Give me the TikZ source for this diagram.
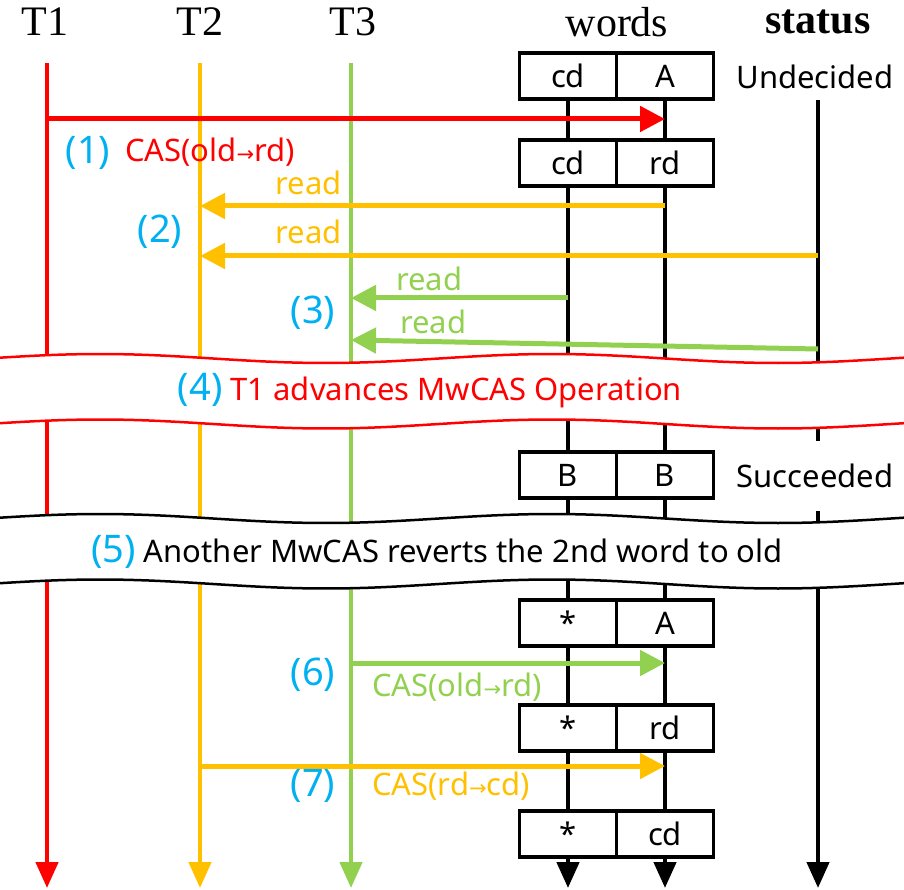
\documentclass[tikz,border=0pt]{standalone}
\usepackage{fontspec}
\setmainfont{Liberation Serif}
\newfontfamily\bodyfont{Noto Sans}
\newfontfamily\arrfont{DejaVu Sans}
\usetikzlibrary{arrows.meta}
\definecolor{tred}{RGB}{255,0,0}
\definecolor{tgold}{RGB}{255,192,0}
\definecolor{tgreen}{RGB}{146,208,80}
\definecolor{tcyan}{RGB}{0,176,240}
\newcommand{\smallto}{{\arrfont\fontsize{21}{22}\selectfont →}}
\newcommand{\stepno}[1]{{\bodyfont\bfseries\fontsize{38}{40}\selectfont\textcolor{tcyan}{(#1)}}}

\begin{document}
\begin{tikzpicture}[x=1pt,y=-1pt,
  head/.style={font=\fontsize{42}{46}\selectfont,inner sep=0pt},
  txt/.style={font=\bodyfont\fontsize{31}{36}\selectfont,inner sep=0pt},
  num/.style={font=\bodyfont\bfseries\fontsize{38}{40}\selectfont,text=tcyan,inner sep=0pt},
  life/.style={line width=4.5pt,-{Triangle[length=26pt,width=22pt]}},
  msg/.style={line width=5pt,-{Triangle[length=25pt,width=25pt]}},
  cell/.style={draw,line width=3.5pt,fill=white,minimum width=97pt,minimum height=46pt,inner sep=0pt,txt},
  band/.style={line width=2.5pt}]
\useasboundingbox (0,0) rectangle (904,890);
\foreach \n/\x in {T1/45,T2/200,T3/353}
  \node[head] (\n) at (\x,22) {\n};
\node[head] (words) at (617,22) {words};
\node[head] (status) at (818,22) {\bfseries status};
\coordinate (w1) at (568,0);
\coordinate (w2) at (665,0);

\draw[life] (w1 |- 0,100) -- (w1 |- 0,888);
\draw[life] (w2 |- 0,100) -- (w2 |- 0,888);
\draw[life] (status |- 0,100) -- (status |- 0,888);
\draw[life,tred] (47,63) -- (47,888);
\draw[life,tgold] (T2 |- 0,63) -- (T2 |- 0,888);
\draw[life,tgreen] (351,63) -- (351,888);

\draw[msg,tred] (47,119) -- (w2 |- 0,119);
\draw[msg,tgold] (w2 |- 0,206) -- (T2 |- 0,206);
\draw[msg,tgold] (status |- 0,256) -- (T2 |- 0,256);
\draw[msg,tgreen] (w1 |- 0,298) -- (351,298);
\draw[msg,tgreen] (status |- 0,349) -- (351,340);
\draw[msg,tgreen] (351,663) -- (w2 |- 0,663);
\draw[msg,tgold] (T2 |- 0,766) -- (w2 |- 0,766);

\foreach \yy/\col in {358.5/tred,518.5/black} {
  \fill[white] plot[domain=0:904,samples=80] (\x,{\yy-4.5*cos((\x-100)/452*360)})
    -- plot[domain=904:0,samples=80] (\x,{\yy+65.5-4.5*cos((\x-100)/452*360)}) -- cycle;
  \draw[band,\col] plot[domain=0:904,samples=80] (\x,{\yy-4.5*cos((\x-100)/452*360)});
  \draw[band,\col] plot[domain=0:904,samples=80] (\x,{\yy+65.5-4.5*cos((\x-100)/452*360)});
}

\foreach \y/\a/\b [count=\i] in {76/cd/A,163/cd/rd,475/B/B,623/*/A,728/*/rd,834/*/cd} {
  \node[cell] (b\i-l) at (w1 |- 0,\y) {\a};
  \node[cell] (b\i-r) at (w2 |- 0,\y) {\b};
}
\node[txt] (undec) at (815,77) {Undecided};
\node[txt,fill=white,minimum height=70pt] (succ) at (815,476) {Succeeded};

\node[num] (n1) at (88,153) {(1)};
\node[txt,text=tred,anchor=west] (l1) at (125,152) {CAS(old\smallto rd)};
\node[txt,text=tgold,anchor=east] (l2a) at (342,183) {read};
\node[txt,text=tgold,anchor=east] (l2b) at (342,232) {read};
\node[num] (n2) at (160,232) {(2)};
\node[txt,text=tgreen,anchor=west] (l3a) at (396,279) {read};
\node[txt,text=tgreen,anchor=west] (l3b) at (400,322) {read};
\node[num] (n3) at (313,313) {(3)};
\node[txt,text=tred] (l4) at (430,391) {\stepno{4} T1 advances MwCAS Operation};
\node[txt] (l5) at (437,552) {\stepno{5} Another MwCAS reverts the 2nd word to old};
\node[num] (n6) at (313,675) {(6)};
\node[txt,text=tgreen,anchor=west] (l6) at (372,687) {CAS(old\smallto rd)};
\node[num] (n7) at (313,786) {(7)};
\node[txt,text=tgold,anchor=west] (l7) at (372,786) {CAS(rd\smallto cd)};
\end{tikzpicture}
\end{document}
